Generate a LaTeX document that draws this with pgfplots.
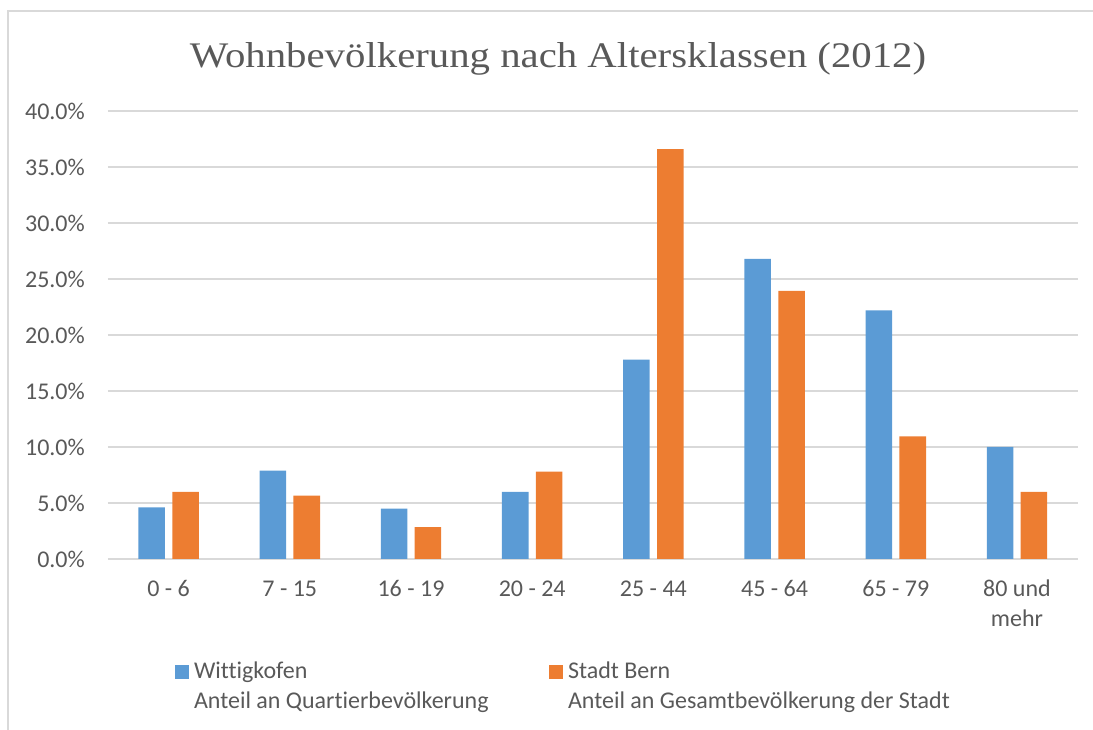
\documentclass[border=0pt]{standalone}
\usepackage{fontspec}
\setmainfont{Carlito}[Ligatures=CommonOff]
\newfontfamily\titlefont{Liberation Serif}
\usepackage{graphicx}
\usepackage{pgfplots}
\pgfplotsset{compat=1.18}
\definecolor{cblue}{HTML}{5B9BD5}
\definecolor{corange}{HTML}{ED7D31}
\definecolor{gridgray}{HTML}{D9D9D9}
\definecolor{textgray}{HTML}{595959}

\begin{document}
\begin{tikzpicture}
\useasboundingbox (-108pt,-171pt) rectangle (985pt,559pt);
\draw[gridgray, line width=1.3pt] (-100pt,-171pt) -- (-100pt,548pt) -- (985pt,548pt);
\node[anchor=base, text=textgray, inner sep=0pt] at (450pt,491pt)
  {\scalebox{1.133}[1]{\titlefont\fontsize{36pt}{40pt}\selectfont Wohnbevölkerung nach Altersklassen (2012)}};
\begin{axis}[
  at={(0pt,0pt)}, anchor=south west,
  width=969.6pt, height=448pt, scale only axis,
  xmin=-0.5, xmax=7.5, ymin=0, ymax=40,
  ytick={0,5,...,40},
  xtick={0,...,7},
  xticklabels={0 - 6, 7 - 15, 16 - 19, 20 - 24, 25 - 44, 45 - 64, 65 - 79, {\begin{tabular}[t]{@{}c@{}}80 und\\mehr\end{tabular}}},
  yticklabel={\pgfmathprintnumber[fixed,fixed zerofill,precision=1]{\tick}\%},
  /pgf/number format/assume math mode=true,
  ymajorgrids, major grid style={gridgray, line width=1.3pt},
  axis line style={draw=none},
  major tick length=0pt,
  tick label style={font=\fontsize{24pt}{30pt}\selectfont, text=textgray, inner sep=0pt},
  xticklabel style={anchor=base, yshift=-38pt},
  yticklabel style={anchor=east, xshift=-23pt},
  ybar,
  legend style={at={(0.0691,-0.2188)}, anchor=north west, draw=none, fill=none,
    inner sep=0pt, outer sep=0pt, font=\fontsize{24pt}{30pt}\selectfont, text=textgray,
    cells={anchor=base west}, nodes={inner sep=0pt},
    /tikz/every odd column/.append style={column sep=5pt},
    /tikz/every even column/.append style={column sep=0pt}},
  legend columns=2,
]
\addplot[fill=cblue, draw=none, bar width=0.219, bar shift=-0.14,
  legend image code/.code={\fill[cblue] (0pt,-1pt) rectangle (14pt,13pt);}]
  coordinates {(0,4.6) (1,7.9) (2,4.5) (3,6.0) (4,17.8) (5,26.8) (6,22.2) (7,10.0)};
\addlegendentry{\makebox[355pt][l]{\begin{tabular}[t]{@{}l@{}}Wittigkofen\\Anteil an Quartierbevölkerung\end{tabular}}}
\addplot[fill=corange, draw=none, bar width=0.219, bar shift=0.14,
  legend image code/.code={\fill[corange] (0pt,-1pt) rectangle (14pt,13pt);}]
  coordinates {(0,6.0) (1,5.65) (2,2.85) (3,7.8) (4,36.6) (5,23.95) (6,10.95) (7,6.0)};
\addlegendentry{\begin{tabular}[t]{@{}l@{}}Stadt Bern\\Anteil an Gesamtbevölkerung der Stadt\end{tabular}}
\end{axis}
\end{tikzpicture}
\end{document}
